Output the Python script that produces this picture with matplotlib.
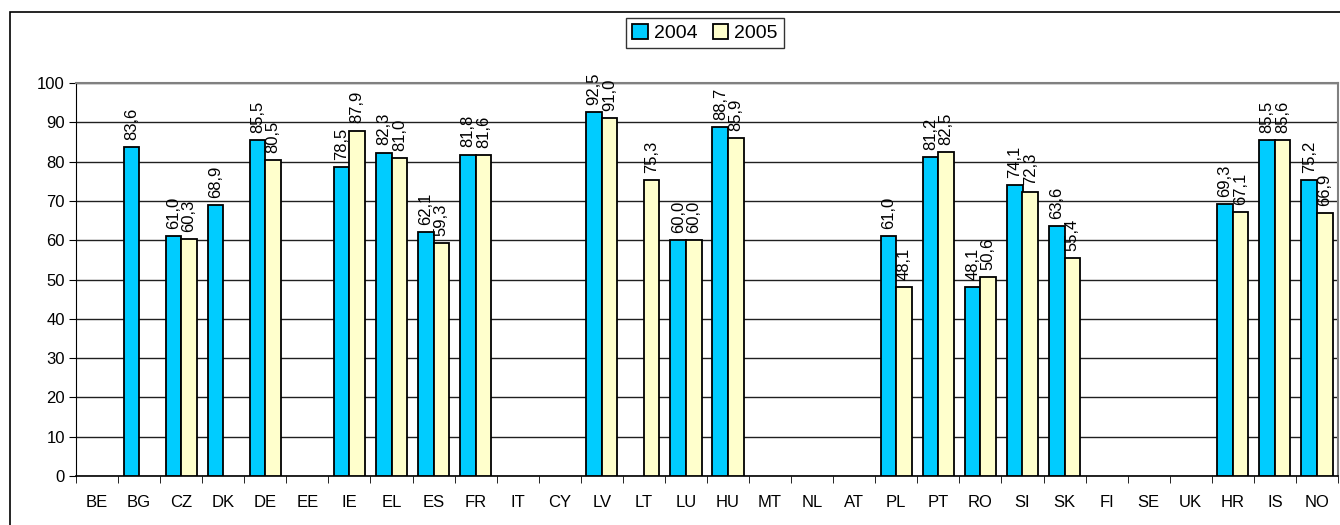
import matplotlib
matplotlib.use('Agg')
import matplotlib.pyplot as plt
import numpy as np

plt.rcParams['font.family'] = ['Liberation Sans', 'DejaVu Sans']

countries = ['BE', 'BG', 'CZ', 'DK', 'DE', 'EE', 'IE', 'EL', 'ES', 'FR', 'IT', 'CY', 'LV', 'LT', 'LU',
             'HU', 'MT', 'NL', 'AT', 'PL', 'PT', 'RO', 'SI', 'SK', 'FI', 'SE', 'UK', 'HR', 'IS', 'NO']
v2004 = [None, 83.6, 61.0, 68.9, 85.5, None, 78.5, 82.3, 62.1, 81.8, None, None, 92.5, None, 60.0,
         88.7, None, None, None, 61.0, 81.2, 48.1, 74.1, 63.6, None, None, None, 69.3, 85.5, 75.2]
v2005 = [None, None, 60.3, None, 80.5, None, 87.9, 81.0, 59.3, 81.6, None, None, 91.0, 75.3, 60.0,
         85.9, None, None, None, 48.1, 82.5, 50.6, 72.3, 55.4, None, None, None, 67.1, 85.6, 66.9]
years = ['2004', '2005']
colors = ['#00CCFF', '#FFFFCC']

fig = plt.figure(figsize=(13.4, 5.25), dpi=100)
ax = fig.add_axes([76 / 1340, 1 - 476 / 525, (1338 - 76) / 1340, (476 - 83) / 525])

x = np.arange(len(countries))
w = 0.37
for i, (vals, yr, c) in enumerate(zip([v2004, v2005], years, colors)):
    h = np.array([np.nan if v is None else v for v in vals])
    pos = x + (i - 0.5) * w
    ax.bar(pos, h, width=w, color=c, edgecolor='black', linewidth=1.3, label=yr, zorder=3)
    for p, v in zip(pos, vals):
        if v is None:
            continue
        ax.text(p, v + 1.8, ('%.1f' % v).replace('.', ','), rotation=90, ha='center', va='bottom',
                fontsize=12, zorder=4)

ax.set_xlim(-0.5, len(countries) - 0.5)
ax.set_ylim(0, 100)
ax.set_yticks(range(0, 101, 10))
ax.yaxis.grid(True, color='#202020', linewidth=1)
ax.set_axisbelow(True)
ax.set_xticks(x)
ax.set_xticklabels(countries, fontsize=12)
ax.set_xticks(np.arange(-0.5, len(countries), 1), minor=True)
ax.tick_params(axis='x', which='major', length=0, pad=14)
ax.tick_params(axis='x', which='minor', length=5, direction='out', color='black')
ax.tick_params(axis='y', length=5, labelsize=12, pad=3, color='black')

for s in ['top', 'right']:
    ax.spines[s].set_color('#808080')
    ax.spines[s].set_linewidth(1.5)
ax.spines['left'].set_color('black')
ax.spines['bottom'].set_color('black')
ax.spines['bottom'].set_linewidth(1.2)

leg = fig.legend(loc='center', bbox_to_anchor=(705 / 1340, 1 - 33 / 525), ncol=2, fontsize=14,
                 frameon=True, fancybox=False, edgecolor='black', handlelength=0.8, handleheight=0.8,
                 handletextpad=0.3, columnspacing=0.8, borderpad=0.3, borderaxespad=0)
leg.get_frame().set_linewidth(1)

border = plt.Rectangle((10 / 1340, -0.05), 1.2, 1 - 12 / 525 + 0.05, transform=fig.transFigure,
                       fill=False, edgecolor='black', linewidth=1.2)
fig.patches.append(border)

fig.savefig('out.png', dpi=100)
